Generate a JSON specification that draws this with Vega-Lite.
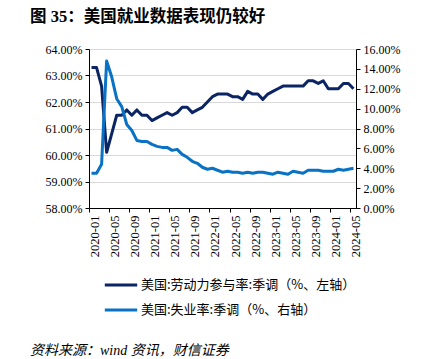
{
  "$schema": "https://vega.github.io/schema/vega-lite/v6.json",
  "autosize": {"type": "pad"},
  "padding": {"left": 30, "top": 8, "right": 5, "bottom": 5},
  "background": "white",
  "title": {"text": "资料来源：wind 资讯，财信证券", "orient": "bottom", "anchor": "start", "font": "Liberation Serif, Noto Sans CJK SC", "fontStyle": "italic", "fontWeight": "normal", "fontSize": 14, "color": "#000", "offset": 27},
  "vconcat": [
    {
      "title": {"text": "图 35：美国就业数据表现仍较好", "anchor": "start", "frame": "group", "dx": -59, "font": "Liberation Serif, Noto Sans CJK SC", "fontSize": 16.5, "fontWeight": "bold", "color": "#000", "offset": 18},
      "width": 267,
      "height": 159,
      "data": {"values": [
        {"date": "2020-01", "lfpr": 63.3, "ur": 3.5},
        {"date": "2020-02", "lfpr": 63.3, "ur": 3.5},
        {"date": "2020-03", "lfpr": 62.6, "ur": 4.4},
        {"date": "2020-04", "lfpr": 60.1, "ur": 14.8},
        {"date": "2020-05", "lfpr": 60.8, "ur": 13.2},
        {"date": "2020-06", "lfpr": 61.5, "ur": 11.0},
        {"date": "2020-07", "lfpr": 61.5, "ur": 10.2},
        {"date": "2020-08", "lfpr": 61.7, "ur": 8.4},
        {"date": "2020-09", "lfpr": 61.5, "ur": 7.8},
        {"date": "2020-10", "lfpr": 61.7, "ur": 6.8},
        {"date": "2020-11", "lfpr": 61.5, "ur": 6.7},
        {"date": "2020-12", "lfpr": 61.5, "ur": 6.7},
        {"date": "2021-01", "lfpr": 61.3, "ur": 6.4},
        {"date": "2021-02", "lfpr": 61.4, "ur": 6.2},
        {"date": "2021-03", "lfpr": 61.5, "ur": 6.1},
        {"date": "2021-04", "lfpr": 61.6, "ur": 6.1},
        {"date": "2021-05", "lfpr": 61.5, "ur": 5.8},
        {"date": "2021-06", "lfpr": 61.6, "ur": 5.9},
        {"date": "2021-07", "lfpr": 61.8, "ur": 5.4},
        {"date": "2021-08", "lfpr": 61.8, "ur": 5.1},
        {"date": "2021-09", "lfpr": 61.6, "ur": 4.7},
        {"date": "2021-10", "lfpr": 61.7, "ur": 4.5},
        {"date": "2021-11", "lfpr": 61.8, "ur": 4.1},
        {"date": "2021-12", "lfpr": 62.0, "ur": 3.9},
        {"date": "2022-01", "lfpr": 62.2, "ur": 4.0},
        {"date": "2022-02", "lfpr": 62.3, "ur": 3.8},
        {"date": "2022-03", "lfpr": 62.3, "ur": 3.6},
        {"date": "2022-04", "lfpr": 62.3, "ur": 3.7},
        {"date": "2022-05", "lfpr": 62.2, "ur": 3.6},
        {"date": "2022-06", "lfpr": 62.2, "ur": 3.6},
        {"date": "2022-07", "lfpr": 62.1, "ur": 3.5},
        {"date": "2022-08", "lfpr": 62.4, "ur": 3.6},
        {"date": "2022-09", "lfpr": 62.3, "ur": 3.5},
        {"date": "2022-10", "lfpr": 62.3, "ur": 3.6},
        {"date": "2022-11", "lfpr": 62.1, "ur": 3.6},
        {"date": "2022-12", "lfpr": 62.3, "ur": 3.5},
        {"date": "2023-01", "lfpr": 62.4, "ur": 3.4},
        {"date": "2023-02", "lfpr": 62.5, "ur": 3.6},
        {"date": "2023-03", "lfpr": 62.6, "ur": 3.5},
        {"date": "2023-04", "lfpr": 62.6, "ur": 3.4},
        {"date": "2023-05", "lfpr": 62.6, "ur": 3.7},
        {"date": "2023-06", "lfpr": 62.6, "ur": 3.6},
        {"date": "2023-07", "lfpr": 62.6, "ur": 3.5},
        {"date": "2023-08", "lfpr": 62.8, "ur": 3.8},
        {"date": "2023-09", "lfpr": 62.8, "ur": 3.8},
        {"date": "2023-10", "lfpr": 62.7, "ur": 3.8},
        {"date": "2023-11", "lfpr": 62.8, "ur": 3.7},
        {"date": "2023-12", "lfpr": 62.5, "ur": 3.7},
        {"date": "2024-01", "lfpr": 62.5, "ur": 3.7},
        {"date": "2024-02", "lfpr": 62.5, "ur": 3.9},
        {"date": "2024-03", "lfpr": 62.7, "ur": 3.8},
        {"date": "2024-04", "lfpr": 62.7, "ur": 3.9},
        {"date": "2024-05", "lfpr": 62.5, "ur": 4.0}
      ]},
      "encoding": {
        "x": {
          "field": "date",
          "type": "ordinal",
          "bandPosition": 0.5,
          "scale": {"type": "band", "paddingInner": 0, "paddingOuter": 0},
          "axis": {
            "title": null,
            "values": ["2020-01", "2020-05", "2020-09", "2021-01", "2021-05", "2021-09", "2022-01", "2022-05", "2022-09", "2023-01", "2023-05", "2023-09", "2024-01", "2024-05"],
            "labelAngle": -90,
            "bandPosition": 0,
            "labelOffset": 3,
            "labelFontSize": 12.5,
            "tickSize": 4,
            "labelPadding": 3,
            "grid": false
          }
        }
      },
      "layer": [
        {
          "mark": {"type": "line", "strokeWidth": 3, "strokeJoin": "round", "strokeCap": "butt"},
          "encoding": {
            "y": {
              "field": "lfpr",
              "type": "quantitative",
              "scale": {"domain": [58, 64], "nice": false, "zero": false},
              "axis": {
                "title": null,
                "values": [58, 59, 60, 61, 62, 63, 64],
                "labelExpr": "format(datum.value, '.2f') + '%'",
                "grid": true,
                "tickSize": 4,
                "labelPadding": 3
              }
            },
            "color": {
              "datum": "美国:劳动力参与率:季调（%、左轴）",
              "scale": {
                "domain": ["美国:劳动力参与率:季调（%、左轴）", "美国:失业率:季调（%、右轴）"],
                "range": ["#0a2464", "#0a72c4"]
              },
              "legend": {
                "title": null,
                "orient": "bottom",
                "direction": "vertical",
                "symbolType": "stroke",
                "symbolSize": 1050,
                "symbolStrokeWidth": 3,
                "symbolOffset": 14,
                "labelFont": "Noto Sans CJK SC",
                "labelFontSize": 13,
                "labelColor": "#000",
                "labelLimit": 400,
                "labelOffset": 2,
                "rowPadding": -25,
                "padding": 0,
                "offset": 10
              }
            }
          }
        },
        {
          "mark": {"type": "line", "strokeWidth": 3, "strokeJoin": "round", "strokeCap": "butt"},
          "encoding": {
            "y": {
              "field": "ur",
              "type": "quantitative",
              "scale": {"domain": [0, 16], "nice": false},
              "axis": {
                "title": null,
                "orient": "right",
                "values": [0, 2, 4, 6, 8, 10, 12, 14, 16],
                "labelExpr": "format(datum.value, '.2f') + '%'",
                "grid": false,
                "tickSize": 4,
                "labelPadding": 3
              }
            },
            "color": {"datum": "美国:失业率:季调（%、右轴）"}
          }
        }
      ],
      "resolve": {"scale": {"y": "independent"}}
    }
  ],
  "config": {
    "view": {"stroke": null},
    "axis": {
      "labelFont": "Liberation Serif",
      "labelFontSize": 12,
      "labelColor": "#000",
      "domainColor": "#000",
      "tickColor": "#000",
      "gridColor": "#d9d9d9",
      "gridWidth": 1
    }
  }
}
